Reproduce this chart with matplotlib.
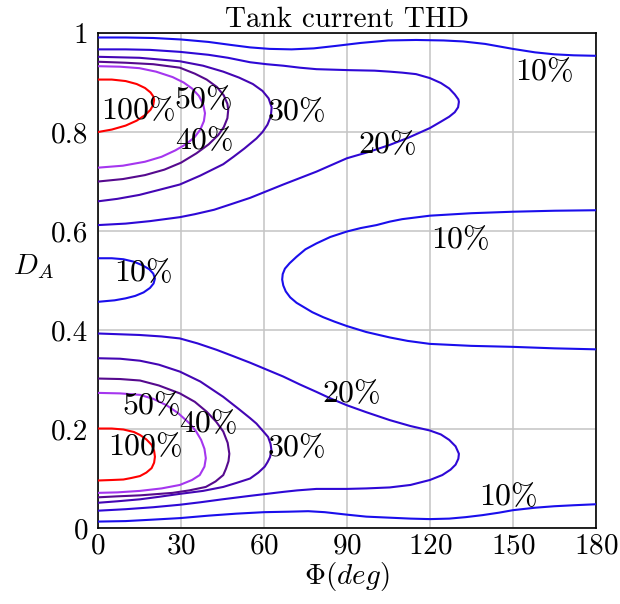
import matplotlib
matplotlib.use("Agg")
import matplotlib.pyplot as plt

plt.rcParams["font.family"] = "serif"
plt.rcParams["font.serif"] = ["cmr10", "DejaVu Serif"]
plt.rcParams["mathtext.fontset"] = "cm"
plt.rcParams["axes.formatter.use_mathtext"] = True

# contour lines (phi in deg, D_A)
top10_phi = [0, 10, 20, 30, 40, 48, 55, 62, 70, 78, 86, 95, 105, 115, 125, 132, 140, 150, 158, 165, 172, 180]
top10_d = [0.991, 0.991, 0.990, 0.987, 0.982, 0.976, 0.971, 0.968, 0.967, 0.969, 0.974, 0.980, 0.985, 0.986,
           0.985, 0.983, 0.978, 0.968, 0.961, 0.957, 0.955, 0.954]

up20_phi = [0, 10, 18.8, 29.6, 40, 47, 55, 61, 67, 73, 79, 91, 100, 105.5, 110, 115, 120, 124, 127, 129, 130.3,
            130.5, 130.2, 129, 127, 124, 120, 112, 105.5, 98, 90, 79, 67, 55, 48, 42, 35, 29.6, 18.8, 10, 0]
up20_d = [0.967, 0.967, 0.966, 0.962, 0.956, 0.950, 0.941, 0.937, 0.934, 0.930, 0.927, 0.925, 0.924, 0.922, 0.920,
          0.917, 0.909, 0.899, 0.888, 0.876, 0.866, 0.861, 0.850, 0.840, 0.831, 0.821, 0.808, 0.788, 0.774, 0.760,
          0.747, 0.720, 0.694, 0.667, 0.654, 0.643, 0.634, 0.628, 0.620, 0.615, 0.612]

up30_phi = [0, 15, 29.6, 38, 45.3, 51, 56, 59.5, 61.7, 62.8, 62.5, 61.3, 59.5, 57.3, 53, 49, 45.3, 37, 29.6, 22, 15, 7, 0]
up30_d = [0.952, 0.950, 0.943, 0.934, 0.922, 0.910, 0.897, 0.883, 0.868, 0.850, 0.832, 0.815, 0.800, 0.787,
          0.767, 0.750, 0.735, 0.712, 0.694, 0.683, 0.673, 0.665, 0.660]

up40_phi = [0, 10, 20, 29.6, 35, 39.3, 43, 45.5, 46.8, 47.1, 46.8, 45.5, 43.5, 40, 35.6, 30, 24, 17, 9, 0]
up40_d = [0.942, 0.940, 0.937, 0.930, 0.918, 0.906, 0.891, 0.874, 0.857, 0.845, 0.828, 0.810, 0.794, 0.775,
          0.757, 0.738, 0.724, 0.713, 0.705, 0.700]

up50_phi = [0, 8, 15, 21, 27, 31, 34, 36.5, 38, 38.7, 38.3, 37, 35, 32, 28, 23, 17, 9, 0]
up50_d = [0.933, 0.932, 0.929, 0.922, 0.911, 0.900, 0.888, 0.873, 0.857, 0.838, 0.822, 0.805, 0.790, 0.776,
          0.763, 0.750, 0.740, 0.732, 0.728]

up100_phi = [0, 5, 10, 14, 17, 19, 20, 20.3, 20, 19, 17, 14, 10, 5, 0]
up100_d = [0.906, 0.906, 0.903, 0.897, 0.889, 0.880, 0.872, 0.865, 0.855, 0.845, 0.834, 0.823, 0.813, 0.805, 0.800]

mid10_phi = [0, 5, 9.2, 13, 16, 18.5, 20, 20.6, 20.1, 18.8, 16.5, 13.5, 10, 6, 0]
mid10_d = [0.545, 0.545, 0.543, 0.538, 0.531, 0.523, 0.514, 0.504, 0.494, 0.485, 0.476, 0.469, 0.464, 0.460, 0.457]

c10_phi = [180, 165, 150, 135, 120, 110, 105.5, 100.7, 95, 90, 84, 79, 75, 71.8, 69.3, 67.6, 66.8, 66.6, 67,
           67.9, 69.5, 71.8, 74.2, 77.5, 81.4, 85.5, 90, 97, 105.5, 112, 120, 135, 150, 165, 180]
c10_d = [0.642, 0.641, 0.639, 0.636, 0.631, 0.624, 0.619, 0.612, 0.606, 0.599, 0.588, 0.575, 0.563, 0.548, 0.535,
         0.524, 0.513, 0.502, 0.490, 0.478, 0.466, 0.455, 0.447, 0.436, 0.426, 0.417, 0.408, 0.396, 0.385, 0.378,
         0.372, 0.368, 0.366, 0.363, 0.361]

lo20_phi = [0, 15, 23, 29.6, 36, 42.9, 49, 55, 61, 67, 73, 79, 84, 90, 97, 105.5, 113, 120, 124, 127, 129.3,
            130.5, 130.3, 129.3, 127.5, 124.5, 120, 113, 105.5, 97, 90, 79, 72, 67, 61, 55, 45, 37, 29.6, 20, 10, 0]
lo20_d = [0.393, 0.390, 0.387, 0.383, 0.373, 0.360, 0.347, 0.334, 0.320, 0.306, 0.290, 0.275, 0.262, 0.248,
          0.234, 0.218, 0.206, 0.197, 0.189, 0.178, 0.165, 0.150, 0.140, 0.128, 0.118, 0.107, 0.097, 0.087, 0.082,
          0.080, 0.079, 0.079, 0.076, 0.073, 0.069, 0.065, 0.058, 0.052, 0.047, 0.042, 0.038, 0.035]

lo30_phi = [0, 8, 15.2, 22, 29.6, 37, 45.3, 51, 55, 57.3, 59.8, 61.5, 62.4, 62.7, 62.2, 61.3, 60.3, 58, 55, 50,
            45.3, 38, 29.6, 22, 15.2, 7, 0]
lo30_d = [0.343, 0.342, 0.338, 0.330, 0.316, 0.296, 0.265, 0.240, 0.222, 0.211, 0.195, 0.184, 0.170, 0.158,
          0.143, 0.133, 0.124, 0.112, 0.100, 0.091, 0.083, 0.075, 0.069, 0.063, 0.058, 0.054, 0.051]

lo40_phi = [0, 8, 15.2, 22, 29.6, 35, 39.3, 42.7, 45.3, 46.9, 47.5, 47.2, 46.3, 45.3, 42.5, 39, 33, 27, 20, 15.2, 7, 0]
lo40_d = [0.302, 0.301, 0.298, 0.288, 0.272, 0.255, 0.235, 0.215, 0.195, 0.172, 0.150, 0.135, 0.120, 0.107,
          0.094, 0.083, 0.076, 0.071, 0.068, 0.066, 0.064, 0.062]

lo50_phi = [0, 8, 15.2, 20, 24.8, 29, 33.2, 35.5, 37.3, 38.5, 39, 38.5, 36.8, 34, 29.6, 23, 15.2, 7, 0]
lo50_d = [0.273, 0.272, 0.269, 0.261, 0.248, 0.232, 0.211, 0.195, 0.178, 0.160, 0.141, 0.124, 0.107, 0.097,
          0.087, 0.080, 0.075, 0.072, 0.071]

lo100_phi = [0, 5, 9.2, 13, 15.2, 17.5, 19.4, 20.3, 20.6, 20.3, 19.4, 17.5, 15.2, 12, 9.2, 5, 0]
lo100_d = [0.201, 0.201, 0.199, 0.194, 0.188, 0.179, 0.168, 0.156, 0.144, 0.132, 0.121, 0.112, 0.105, 0.101,
           0.098, 0.097, 0.096]

bot10_phi = [0, 10, 20, 29.6, 40, 50, 60, 69, 76, 82, 90, 97, 105, 113, 120, 127, 133, 139, 145, 150, 158, 165, 172, 180]
bot10_d = [0.013, 0.014, 0.017, 0.020, 0.025, 0.029, 0.032, 0.033, 0.034, 0.032, 0.027, 0.023, 0.021, 0.019,
           0.018, 0.019, 0.022, 0.026, 0.031, 0.036, 0.041, 0.044, 0.046, 0.048]

level_colors = {10: "#1a0eec", 20: "#2e08d6", 30: "#4406b4", 40: "#560a8e", 50: "#a536ef", 100: "#ff0000"}

lines = [
    (top10_phi, top10_d, 10), (up20_phi, up20_d, 20), (up30_phi, up30_d, 30),
    (up40_phi, up40_d, 40), (up50_phi, up50_d, 50), (up100_phi, up100_d, 100),
    (mid10_phi, mid10_d, 10), (c10_phi, c10_d, 10),
    (lo20_phi, lo20_d, 20), (lo30_phi, lo30_d, 30), (lo40_phi, lo40_d, 40),
    (lo50_phi, lo50_d, 50), (lo100_phi, lo100_d, 100), (bot10_phi, bot10_d, 10),
]

# contour labels: text, phi, D
label_text = ["100%", "50%", "40%", "30%", "20%", "10%", "10%", "10%",
              "20%", "30%", "10%", "50%", "40%", "100%"]
label_phi = [14.6, 38.4, 38.4, 72, 104.7, 161.4, 131.2, 16.3, 91.9, 72, 148.3, 19.3, 40.1, 17.2]
label_d = [0.842, 0.864, 0.782, 0.840, 0.774, 0.920, 0.582, 0.515, 0.271, 0.161, 0.062, 0.246, 0.210, 0.163]

fig = plt.figure(figsize=(6.2, 6.04), dpi=100)
ax = fig.add_axes([0.158, 0.1258, 0.803, 0.8195])

for phi, d, lev in lines:
    ax.plot(phi, d, color=level_colors[lev], lw=1.5, solid_joinstyle="round", zorder=3)

for t, p, d in zip(label_text, label_phi, label_d):
    ax.text(p, d, t, fontsize=23, ha="center", va="center", zorder=4)

ax.set_xlim(0, 180)
ax.set_ylim(0, 1)
ax.set_xticks([0, 30, 60, 90, 120, 150, 180])
ax.set_yticks([0, 0.2, 0.4, 0.6, 0.8, 1])
ax.set_yticklabels(["0", "0.2", "0.4", "0.6", "0.8", "1"])
ax.grid(True, color="#c4c4c4", lw=1.1, zorder=0)
ax.set_axisbelow(True)
ax.tick_params(direction="in", length=0, labelsize=21)
ax.tick_params(axis="x", pad=4)
ax.tick_params(axis="y", pad=7)
for s in ax.spines.values():
    s.set_linewidth(1.2)

ax.set_title("Tank current THD", fontsize=21, pad=3)
ax.set_xlabel(r"$\Phi(deg)$", fontsize=21, labelpad=0)
ax.set_ylabel(r"$D_A$", fontsize=21, rotation=0)
ax.yaxis.set_label_coords(-0.13, 0.5)

fig.savefig("out.png", dpi=100)
